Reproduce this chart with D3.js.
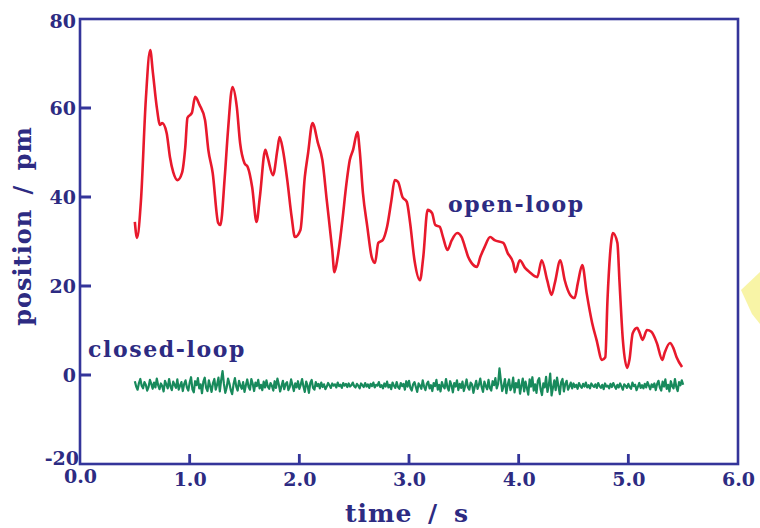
<!DOCTYPE html>
<html><head><meta charset="utf-8">
<script src="https://cdn.jsdelivr.net/npm/d3@7"></script>
<style>
html,body{margin:0;padding:0;background:#fff;}
svg text{font-family:"DejaVu Serif",serif;font-weight:bold;fill:#2d2b82;}
</style></head>
<body>
<svg id="chart" width="760" height="528"></svg>
<script>
// ---- data ----
const xTicks = [0, 1, 2, 3, 4, 5, 6];
const yTicks = [-20, 0, 20, 40, 60, 80];
const openTime = [0.50,0.52,0.556,0.60,0.64,0.665,0.70,0.73,0.75,0.79,0.82,0.85,0.89,0.93,0.96,0.98,1.02,1.05,1.09,1.14,1.17,1.21,1.26,1.28,1.32,1.35,1.39,1.43,1.46,1.50,1.53,1.57,1.61,1.64,1.69,1.71,1.76,1.80,1.82,1.85,1.89,1.93,1.96,2.01,2.05,2.08,2.12,2.17,2.21,2.25,2.30,2.32,2.35,2.39,2.43,2.46,2.49,2.53,2.55,2.58,2.62,2.66,2.69,2.72,2.76,2.80,2.84,2.87,2.90,2.94,2.98,3.01,3.05,3.10,3.13,3.17,3.21,3.24,3.28,3.31,3.35,3.39,3.44,3.48,3.51,3.54,3.57,3.62,3.65,3.69,3.74,3.78,3.86,3.90,3.95,3.97,4.01,4.06,4.10,4.17,4.21,4.26,4.30,4.33,4.38,4.42,4.47,4.51,4.54,4.58,4.62,4.67,4.71,4.76,4.79,4.81,4.85,4.86,4.90,4.92,4.95,4.99,5.01,5.04,5.08,5.10,5.13,5.17,5.21,5.26,5.31,5.33,5.38,5.41,5.44,5.49];
const openValue = [34.4,30.8,39.3,61.8,73.0,67.9,60.2,56.2,56.6,54.4,49.0,45.6,43.8,45.4,51.2,57.8,58.9,62.5,60.7,57.3,50.6,45.4,34.2,33.7,44.5,55.1,64.7,60.2,52.1,47.6,46.7,42.2,34.4,40.0,50.6,49.0,44.9,50.6,53.5,50.6,43.8,35.5,31.0,32.6,44.5,49.9,56.6,52.1,48.3,39.3,28.1,23.1,26.5,34.2,43.1,48.3,50.6,54.6,50.6,40.9,33.3,26.5,25.2,29.7,30.3,33.3,39.3,43.8,43.4,40.0,38.9,34.2,25.8,21.3,26.5,37.1,36.4,33.7,33.3,31.0,28.1,30.3,31.9,31.0,28.8,26.5,25.2,24.3,26.5,28.8,31.0,30.3,29.7,27.4,25.2,23.1,25.8,24.0,23.1,22.0,25.8,21.3,18.0,20.7,25.8,21.3,18.0,17.3,20.7,24.7,18.4,11.7,7.9,3.4,4.0,16.9,31.0,31.9,29.7,20.7,7.9,1.6,3.4,9.4,10.6,9.7,7.9,10.1,9.7,7.2,3.4,4.9,7.2,6.1,4.0,1.8];
const closedStart = 0.5, closedStep = 0.0125;
const closedValue = [
-1.4,-2.6,-3.3,-1.8,-0.9,-2.4,-3.0,-1.6,-2.2,-3.5,-2.7,-1.1,-2.0,-3.1,-1.7,-2.8,-0.8,-2.3,-3.2,-1.9,
-2.5,-3.7,-1.3,-2.1,-3.0,-0.9,-2.6,-3.4,-1.5,-2.2,-2.9,-1.0,-3.3,-2.4,-1.6,-3.6,-2.0,-1.2,-2.8,-3.5,
-1.7,-0.5,-3.2,-3.9,-1.4,-2.3,-0.7,-3.0,-2.1,-4.1,-1.5,-0.6,-2.9,-3.6,-1.2,-2.5,-3.8,-1.8,-0.9,-3.3,
-2.2,-0.6,-3.7,-1.1,0.9,-2.0,-4.0,-2.8,-0.8,-1.9,-3.4,-4.3,-2.1,-0.7,-2.6,-3.5,-1.3,-2.4,-3.1,-1.6,
-3.8,-2.3,-1.0,-2.7,-3.3,-0.9,-2.0,-3.6,-1.7,-2.5,-1.1,-3.0,-2.2,-3.4,-1.5,-2.8,-1.2,-2.6,-3.1,-1.8,
-2.4,-3.5,-1.4,-2.9,-0.8,-2.1,-3.7,-2.5,-1.3,-3.2,-2.0,-1.6,-3.4,-2.7,-1.0,-2.3,-3.6,-1.9,-2.8,-1.4,
-3.1,-2.2,-0.9,-2.6,-3.8,-1.5,-2.4,-4.0,-1.8,-1.1,-2.9,-3.3,-1.6,-2.5,-2.0,-3.0,-1.7,-2.7,-2.1,-3.2,
-2.6,-1.8,-2.3,-2.9,-1.9,-2.4,-2.1,-2.8,-1.7,-2.5,-2.2,-2.9,-1.8,-2.4,-2.0,-2.7,-1.9,-2.6,-2.3,-1.7,
-2.5,-2.8,-2.0,-2.4,-3.0,-1.9,-2.3,-2.7,-1.8,-2.6,-2.1,-2.9,-2.0,-2.5,-1.7,-2.8,-2.2,-2.4,-1.6,-2.7,
-2.3,-3.0,-1.9,-2.6,-1.5,-2.8,-2.2,-3.2,-1.7,-2.4,-2.9,-1.6,-2.7,-3.1,-1.8,-2.5,-2.0,-3.3,-1.4,-2.6,
-1.3,-2.9,-3.5,-2.1,-1.6,-2.7,-3.8,-1.9,-2.4,-3.1,-1.2,-2.6,-3.4,-2.0,-1.5,-3.0,-2.3,-3.6,-1.8,-2.5,
-1.1,-3.3,-2.2,-3.7,-1.6,-2.5,-3.0,-0.9,-2.7,-3.5,-1.4,-2.3,-3.9,-1.8,-2.6,-1.2,-3.4,-2.0,-2.9,-1.5,
-3.6,-2.4,-1.0,-2.8,-3.3,-1.7,-2.1,-4.0,-2.6,-1.3,-3.1,-2.2,-0.8,-2.7,-3.8,-1.5,-2.5,-3.2,-1.1,-2.9,
-3.5,-1.4,-2.3,-0.7,-3.0,-2.0,1.5,-1.2,-3.6,-2.5,-0.9,-4.1,-2.2,-1.0,-3.4,-2.7,-0.6,-3.9,-1.8,-2.8,
-1.1,-4.2,-2.4,-0.8,-3.7,-1.5,-2.9,-4.4,-1.0,-2.6,-0.5,-3.5,-2.1,-4.0,-1.3,-0.7,-3.2,-4.5,-1.9,-2.8,
-0.4,-3.8,-2.3,0.3,-4.6,-2.9,-1.2,-3.4,-0.6,-2.5,-4.3,-1.6,-0.9,-3.7,-2.0,-1.3,-3.3,-2.6,-1.7,-3.0,
-1.9,-2.7,-2.2,-3.1,-1.8,-2.5,-2.9,-2.0,-2.6,-1.7,-2.8,-2.3,-3.0,-1.9,-2.4,-2.7,-2.1,-2.9,-1.8,-2.5,
-2.9,-2.2,-3.2,-1.9,-2.6,-2.4,-3.0,-2.0,-2.7,-1.8,-2.5,-3.1,-2.2,-2.8,-1.9,-2.6,-3.3,-2.1,-2.4,-2.9,
-2.0,-2.7,-3.1,-1.7,-2.5,-2.2,-3.4,-2.6,-1.8,-2.9,-2.3,-3.0,-2.0,-2.8,-1.6,-2.4,-3.2,-2.1,-2.7,-1.9,
-3.4,-2.0,-1.3,-2.8,-3.5,-1.5,-2.6,-1.0,-3.1,-2.2,-3.7,-1.4,-2.5,-3.0,-0.9,-2.7,-3.6,-1.6,-2.3,-1.2,
-2.2];
const labels = {x:"time / s", y:"position / pm", open:"open-loop", closed:"closed-loop"};

// ---- chart ----
const navy = "#2d2b82", frameCol = "#34359a";
const svg = d3.select("#chart");
const L = 80, R = 738, T = 19, B = 464;
const x = d3.scaleLinear().domain([0, 6]).range([L, R]);
const y = d3.scaleLinear().domain([-20, 80]).range([B, T]);

// yellow pointer fragment at right edge
svg.append("path")
  .attr("d", "M741,290 L760,272 L760,324 L752,314 Z")
  .attr("fill", "#f7f39c").attr("opacity", 0.9);

const gx = svg.append("g").attr("transform", `translate(0,${B})`)
  .call(d3.axisBottom(x).tickValues(xTicks).tickFormat(d3.format(".1f")).tickSize(0).tickPadding(9));
const gy = svg.append("g").attr("transform", `translate(${L},0)`)
  .call(d3.axisLeft(y).tickValues(yTicks).tickFormat(d => d < 0 ? "-" + Math.abs(d) : d).tickSize(0).tickPadding(4));
[gx, gy].forEach(g => {
  g.select(".domain").remove();
  g.selectAll(".tick line").remove();
  g.selectAll(".tick text").style("font-size", "19px").style("fill", navy);
});
gy.selectAll(".tick").filter(d => d === -20).select("text").attr("dy", "0.05em").attr("x", -1);
gy.selectAll(".tick").filter(d => d === 80).select("text").attr("dy", "0.45em");
gx.selectAll(".tick").filter(d => d === 0).select("text").attr("dy", "0.55em");

svg.append("rect").attr("x", L).attr("y", T).attr("width", R - L).attr("height", B - T)
  .attr("fill", "none").attr("stroke", frameCol).attr("stroke-width", 2.6);

// inward tick marks
const xTickPath = xTicks.filter(d => d > 0 && d < 6).map(d => `M${x(d)},${B}V${B - 10}`).join("");
const yTickPath = yTicks.filter(d => d > -20 && d < 80).map(d => `M${L},${y(d)}H${L + 11}`).join("");
svg.append("path").attr("d", xTickPath + yTickPath)
  .attr("fill", "none").attr("stroke", frameCol).attr("stroke-width", 2.8);

const openData = openTime.map((t, i) => [t, openValue[i]]);
const closedData = closedValue.map((v, i) => [closedStart + i * closedStep, v]);

svg.append("path").datum(closedData).attr("d", d3.line().x(d => x(d[0])).y(d => y(d[1])))
  .attr("fill", "none").attr("stroke", "#188a5c").attr("stroke-width", 2.2).attr("stroke-linejoin", "round");
svg.append("path").datum(openData)
  .attr("d", d3.line().x(d => x(d[0])).y(d => y(d[1])).curve(d3.curveMonotoneX))
  .attr("fill", "none").attr("stroke", "#e8192c").attr("stroke-width", 2.6).attr("stroke-linejoin", "round");

svg.append("text").attr("x", 448).attr("y", 212).style("font-size", "22px").style("letter-spacing", "1.6px").text(labels.open);
svg.append("text").attr("x", 88).attr("y", 357).style("font-size", "22px").style("letter-spacing", "1.6px").text(labels.closed);
svg.append("text").attr("x", (L + R) / 2 - 2).attr("y", 522).attr("text-anchor", "middle")
  .style("font-size", "25px").style("letter-spacing", "1px").style("word-spacing", "6px").text(labels.x);
svg.append("text").attr("transform", `translate(31,226) rotate(-90)`).attr("text-anchor", "middle")
  .style("font-size", "24px").style("letter-spacing", "1px").style("word-spacing", "5px").text(labels.y);
</script>
</body></html>
